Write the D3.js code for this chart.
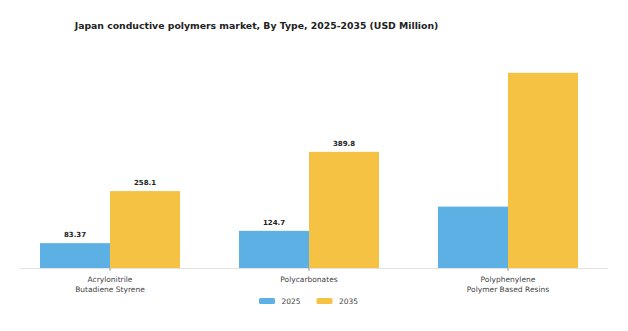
<!DOCTYPE html>
<html><head><meta charset="utf-8">
<script src="https://cdn.jsdelivr.net/npm/d3@7"></script>
<style>body{margin:0;background:#fff;}svg{display:block;font-family:"DejaVu Sans",sans-serif;}</style>
</head><body>
<svg id="c" width="628" height="331"></svg>
<script>
const categories = ["Acrylonitrile\nButadiene Styrene", "Polycarbonates", "Polyphenylene\nPolymer Based Resins"];
const seriesNames = ["2025", "2035"];
const values2025 = [83.37, 124.7, 206];
const values2035 = [258.1, 389.8, 655];
const labels2025 = ["83.37", "124.7", ""];
const labels2035 = ["258.1", "389.8", ""];
const colors = ["#5DB0E4", "#F6C244"];
const title = "Japan conductive polymers market, By Type, 2025-2035 (USD Million)";

const svg = d3.select("#c");
const baseY = 268;
const x0 = d3.scaleBand().domain(categories).range([10.5, 607.5]).padding(0);
const x1 = d3.scaleBand().domain(seriesNames).range([29.5, 169.5]).padding(0);
const y = d3.scaleLinear().domain([0, 700]).range([baseY, baseY - 700 * 0.298]);
const color = d3.scaleOrdinal().domain(seriesNames).range(colors);

svg.append("text").attr("x", 256.5).attr("y", 29).attr("text-anchor", "middle")
  .attr("font-size", 9.3).attr("font-weight", "bold").attr("fill", "#222").text(title);

const rows = categories.map((c, i) => ({cat: c, vals: [
  {s: "2025", v: values2025[i], l: labels2025[i]},
  {s: "2035", v: values2035[i], l: labels2035[i]}]}));

const g = svg.selectAll("g.grp").data(rows).enter().append("g")
  .attr("transform", d => `translate(${x0(d.cat)},0)`);
g.selectAll("rect").data(d => d.vals).enter().append("rect")
  .attr("x", d => x1(d.s)).attr("width", x1.bandwidth())
  .attr("y", d => y(d.v)).attr("height", d => y(0) - y(d.v))
  .attr("fill", d => color(d.s));
g.selectAll("text.v").data(d => d.vals.filter(v => v.l)).enter().append("text")
  .attr("x", d => x1(d.s) + x1.bandwidth() / 2).attr("y", d => y(d.v) - 6)
  .attr("text-anchor", "middle").attr("font-size", 7).attr("font-weight", "bold")
  .attr("fill", "#222").text(d => d.l);

// baseline axis
svg.append("line").attr("x1", 20).attr("x2", 608).attr("y1", baseY + 0.5).attr("y2", baseY + 0.5)
  .attr("stroke", "#e3e3e3").attr("stroke-width", 1);
// category labels
categories.forEach(c => {
  const cx = x0(c) + x0.bandwidth() / 2;
  svg.append("line").attr("x1", cx).attr("x2", cx).attr("y1", baseY).attr("y2", baseY + 3)
    .attr("stroke", "#999");
  const t = svg.append("text").attr("text-anchor", "middle").attr("font-size", 7.5).attr("fill", "#444");
  c.split("\n").forEach((line, k) => {
    t.append("tspan").attr("x", cx).attr("y", baseY + 14 + k * 10).text(line);
  });
});

// legend
const leg = [{s: "2025", x: 259}, {s: "2035", x: 316.5}];
leg.forEach(d => {
  svg.append("rect").attr("x", d.x).attr("y", 298).attr("width", 16).attr("height", 6).attr("rx", 1.5)
    .attr("fill", color(d.s));
  svg.append("text").attr("x", d.x + 22.5).attr("y", 304).attr("font-size", 7.5).attr("fill", "#444").text(d.s);
});
</script>
</body></html>
